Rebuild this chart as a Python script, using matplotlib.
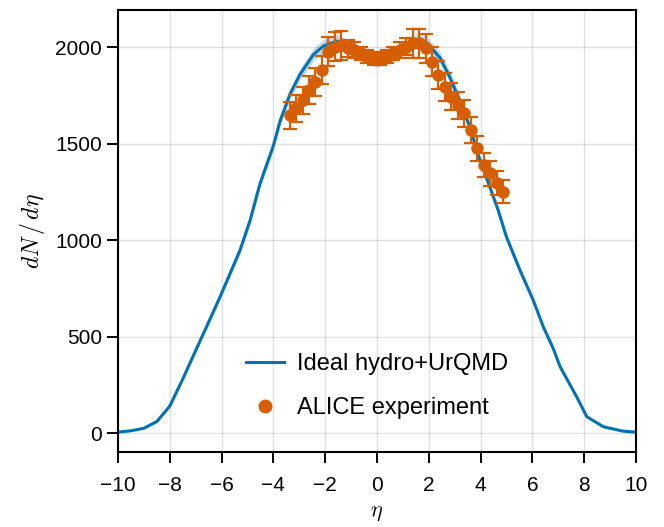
import matplotlib
matplotlib.use("Agg")
import matplotlib.pyplot as plt
from matplotlib.lines import Line2D
import numpy as np

# model curve (ideal hydro + UrQMD)
eta_model = [-10, -9.5, -9, -8.5, -8, -7.5, -6.96, -6.5, -6.06, -5.29, -4.9, -4.52, -4,
             -3.74, -3.36, -2.97, -2.45, -2.07, -1.56, -1, -0.5, 0, 0.5, 1, 1.5, 1.9,
             2.43, 2.82, 3.2, 3.59, 3.98, 4.36, 4.68, 5.0, 5.52, 6.03, 6.42, 6.8,
             7.07, 7.71, 8.1, 8.74, 9.5, 10]
dn_model = [5, 12, 25, 60, 140, 280, 440, 575, 706, 947, 1102, 1291, 1490,
            1618, 1756, 1859, 1962, 2005, 2031, 2000, 1955, 1930, 1950, 1995, 2030, 2025,
            1945, 1842, 1721, 1584, 1412, 1274, 1154, 1016, 844, 689, 551, 440,
            344, 188, 85, 33, 10, 5]
err_model = [2, 3, 4, 6, 8, 10, 12, 14, 16, 19, 21, 23, 25,
             26, 28, 30, 32, 33, 34, 34, 34, 34, 34, 34, 34, 33,
             31, 29, 27, 25, 23, 21, 20, 19, 17, 15, 14, 12,
             11, 8, 6, 4, 3, 2]

# ALICE data
eta_data = [-3.375, -3.125, -2.875, -2.625, -2.375, -2.125, -1.875, -1.625, -1.375, -1.125,
            -0.875, -0.625, -0.375, -0.125, 0.125, 0.375, 0.625, 0.875, 1.125, 1.375,
            1.625, 1.875, 2.125, 2.375, 2.625, 2.875, 3.125, 3.375, 3.625, 3.875,
            4.125, 4.375, 4.625, 4.875]
dn_data = [1648, 1682, 1725, 1777, 1820, 1881, 1976, 2002, 2010, 1993,
           1984, 1967, 1950, 1941, 1941, 1950, 1967, 1984, 2002, 2019,
           2019, 1993, 1924, 1855, 1794, 1743, 1699, 1656, 1570, 1475,
           1389, 1345, 1294, 1250]
err_data = [70, 70, 70, 72, 72, 74, 75, 75, 75, 45,
            40, 35, 35, 35, 35, 35, 35, 40, 45, 75,
            75, 75, 74, 72, 72, 70, 70, 68, 68, 66,
            64, 64, 62, 60]

blue = "#0072B2"
orange = "#D55E00"

plt.rcParams["font.family"] = ["Liberation Sans", "DejaVu Sans"]
plt.rcParams["mathtext.fontset"] = "cm"

fig = plt.figure(figsize=(6.64, 5.27), dpi=100)
ax = fig.add_axes([0.1777, 0.1423, 0.7801, 0.8387])

em = np.array(dn_model)
ee = np.array(err_model)
ax.fill_between(eta_model, em - ee, em + ee, color=blue, alpha=0.25, linewidth=0)
ax.plot(eta_model, dn_model, color=blue, linewidth=2.2, label="Ideal hydro+UrQMD")
ax.errorbar(eta_data, dn_data, yerr=err_data, fmt="o", color=orange, markersize=8,
            elinewidth=1.6, capsize=4.8, capthick=1.6, label="ALICE experiment")

ax.set_xlim(-10, 10)
ax.set_ylim(-98, 2192)
ax.set_xticks(range(-10, 11, 2))
ax.set_yticks([0, 500, 1000, 1500, 2000])
ax.set_xticklabels(["\u221210", "\u22128", "\u22126", "\u22124", "\u22122", "0", "2", "4", "6", "8", "10"])
ax.tick_params(labelsize=15, length=8, width=1.4, direction="out")
ax.tick_params(axis="x", pad=9)
ax.tick_params(axis="y", pad=3.5)
ax.grid(True, color="black", alpha=0.12, linewidth=1)
ax.set_axisbelow(True)
for s in ax.spines.values():
    s.set_linewidth(1.5)

ax.set_xlabel(r"$\eta$", fontsize=16, labelpad=5)
ax.set_ylabel(r"$dN\,/\,d\eta$", fontsize=17, labelpad=6)

handles, labels = ax.get_legend_handles_labels()
h2 = Line2D([], [], marker="o", color=orange, linestyle="none", markersize=9)
ax.legend([handles[0], h2], labels, loc="center", bbox_to_anchor=(0.5, 0.149),
          frameon=False, fontsize=17, labelspacing=0.95, handlelength=1.6,
          handletextpad=0.55)

fig.savefig("out.png", dpi=100)
